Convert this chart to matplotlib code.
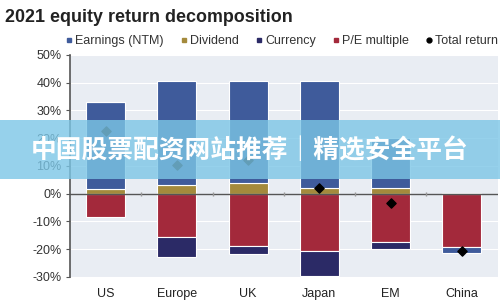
import numpy as np
import matplotlib
matplotlib.use("Agg")
import matplotlib.pyplot as plt
from matplotlib.patches import Rectangle
from matplotlib.lines import Line2D

# data (% return)
regions = ["US", "Europe", "UK", "Japan", "EM", "China"]
earnings = [31.5, 37.5, 36.5, 38.5, 18.0, -2.2]
dividend = [1.5, 3.0, 4.0, 2.0, 2.0, 0.4]
currency = [0.0, -7.2, -3.0, -9.0, -2.5, 0.0]
pe_multiple = [-8.3, -15.8, -18.8, -20.8, -17.6, -19.3]
total_return = [22.5, 10.5, 12.0, 2.0, -3.3, -20.5]
yticks = [-30, -20, -10, 0, 10, 20, 30, 40, 50]

c_earn = "#3f5b9b"
c_div = "#a48a3c"
c_cur = "#2b2a66"
c_pe = "#a3293b"

plt.rcParams["font.family"] = ["Liberation Sans", "DejaVu Sans"]

fig = plt.figure(figsize=(5, 3), dpi=100)
ax = fig.add_axes([0.14, 0.077, 0.855, 0.74])
ax.set_facecolor("#e9edf3")

x = np.arange(len(regions))
w = 0.55
kw = dict(width=w, edgecolor="white", linewidth=0.8, zorder=3)

# positive parts stack upward from 0, negative parts downward
pos_base = np.zeros(len(x))
neg_base = np.zeros(len(x))
for vals, col in [(dividend, c_div), (pe_multiple, c_pe), (earnings, c_earn), (currency, c_cur)]:
    v = np.array(vals)
    base = np.where(v >= 0, pos_base, neg_base)
    ax.bar(x, v, bottom=base, color=col, **kw)
    pos_base = pos_base + np.where(v >= 0, v, 0)
    neg_base = neg_base + np.where(v < 0, v, 0)

ax.axhline(0, color="#555555", lw=1.0, zorder=4)
ax.plot(x[:-1] + 0.5, np.zeros(len(x) - 1), ls="none", marker="|", ms=3,
        color="#999999", zorder=4)
ax.scatter(x, total_return, marker="D", s=22, color="black", zorder=5)

ax.set_xlim(-0.5, len(x) - 0.5)
ax.set_ylim(-30, 50)
ax.set_yticks(yticks)
ax.set_yticklabels([f"{t}%" for t in yticks], fontsize=9, color="#333333")
ax.set_xticks(x)
ax.set_xticklabels(regions, fontsize=9, color="#222222")
ax.tick_params(axis="x", length=0, pad=8)
ax.tick_params(axis="y", length=3, color="#555555", pad=3)
ax.grid(axis="y", color="white", lw=0.8, zorder=0)
for s in ["top", "right", "bottom"]:
    ax.spines[s].set_visible(False)
ax.spines["left"].set_color("#555555")
ax.spines["left"].set_linewidth(1.2)

fig.text(0.01, 0.94, "2021 equity return decomposition", fontsize=12.9,
         fontweight="bold", color="#222222", va="center")

handles = [
    Line2D([], [], ls="none", marker="s", ms=3.5, color=c_earn),
    Line2D([], [], ls="none", marker="s", ms=3.5, color=c_div),
    Line2D([], [], ls="none", marker="s", ms=3.5, color=c_cur),
    Line2D([], [], ls="none", marker="s", ms=3.5, color=c_pe),
    Line2D([], [], ls="none", marker="o", ms=3.5, color="black"),
]
labels = ["Earnings (NTM)", "Dividend", "Currency", "P/E multiple", "Total return"]
fig.legend(handles, labels, loc="center", bbox_to_anchor=(0.563, 0.862), ncol=5,
           frameon=False, fontsize=9, handlelength=0.6, handletextpad=0.2,
           columnspacing=1.3, labelcolor="#333333")

# watermark banner over the chart
fig.patches.append(Rectangle((0, 0.403), 1, 0.197, transform=fig.transFigure,
                             facecolor="#7cc6e6", alpha=0.8, zorder=10))
fig.text(0.5, 0.497, "中国股票配资网站推荐｜精选安全平台", fontsize=18.5,
         fontweight="bold", color="white", ha="center", va="center",
         family=["Noto Sans CJK SC", "DejaVu Sans"], zorder=11)

fig.savefig("out.png", dpi=100)
